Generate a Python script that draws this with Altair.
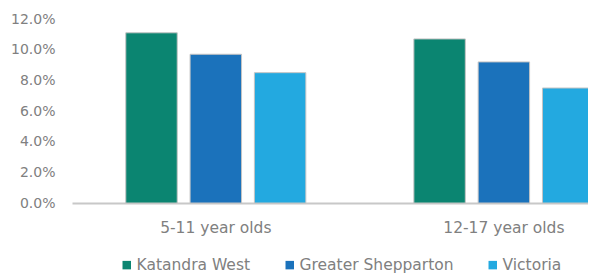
import altair as alt
import pandas as pd

groups = ["5-11 year olds", "12-17 year olds"]
series = ["Katandra West", "Greater Shepparton", "Victoria"]
katandra_west = [11.1, 10.7]
greater_shepparton = [9.7, 9.2]
victoria = [8.5, 7.5]
y_ticks = [0, 2, 4, 6, 8, 10, 12]
colors = ["#0b8571", "#1b72bb", "#23a9e0"]

rows = []
for name, vals in zip(series, [katandra_west, greater_shepparton, victoria]):
    for g, v in zip(groups, vals):
        rows.append({"group": g, "series": name, "value": v})
df = pd.DataFrame(rows)

FONT = "DejaVu Sans"
GRAY = "#808080"

chart = alt.Chart(df).mark_bar(stroke="#c4c4c4", strokeWidth=1).encode(
    x=alt.X(
        "group:N",
        sort=groups,
        scale=alt.Scale(range=[0, 524], paddingInner=0.375,
                        paddingOuter=0.097, align=0.9625),
        axis=alt.Axis(
            title=None, labelAngle=0, ticks=False, tickSize=0,
            domainColor="#c8c8c8", domainWidth=2, labelPadding=17,
            labelFont=FONT, labelFontSize=15.5, labelColor=GRAY,
        ),
    ),
    xOffset=alt.XOffset(
        "series:N", sort=series,
        scale=alt.Scale(paddingInner=0.2, paddingOuter=0),
    ),
    y=alt.Y(
        "value:Q",
        scale=alt.Scale(domain=[0, 12], nice=False),
        axis=alt.Axis(
            title=None, values=y_ticks, domain=False, ticks=False, tickSize=0,
            grid=False, labelPadding=17,
            labelExpr="format(datum.value, '.1f') + '%'",
            labelFont=FONT, labelFontSize=14, labelColor=GRAY,
        ),
    ),
    color=alt.Color(
        "series:N", sort=series,
        scale=alt.Scale(domain=series, range=colors),
        legend=alt.Legend(
            title=None, orient="none", direction="horizontal",
            legendX=47, legendY=238,
            symbolType="square", symbolSize=72, symbolStrokeWidth=0,
            labelFont=FONT, labelFontSize=15.5, labelColor=GRAY,
            labelOffset=2, columnPadding=31,
        ),
    ),
).properties(
    width=516,
    height=184,
    autosize=alt.AutoSizeParams(type="none"),
    padding={"left": 64, "top": 11, "right": 0, "bottom": 71},
).configure_view(stroke=None)

chart.save("out.html", embed_options={"renderer": "svg", "actions": False})
